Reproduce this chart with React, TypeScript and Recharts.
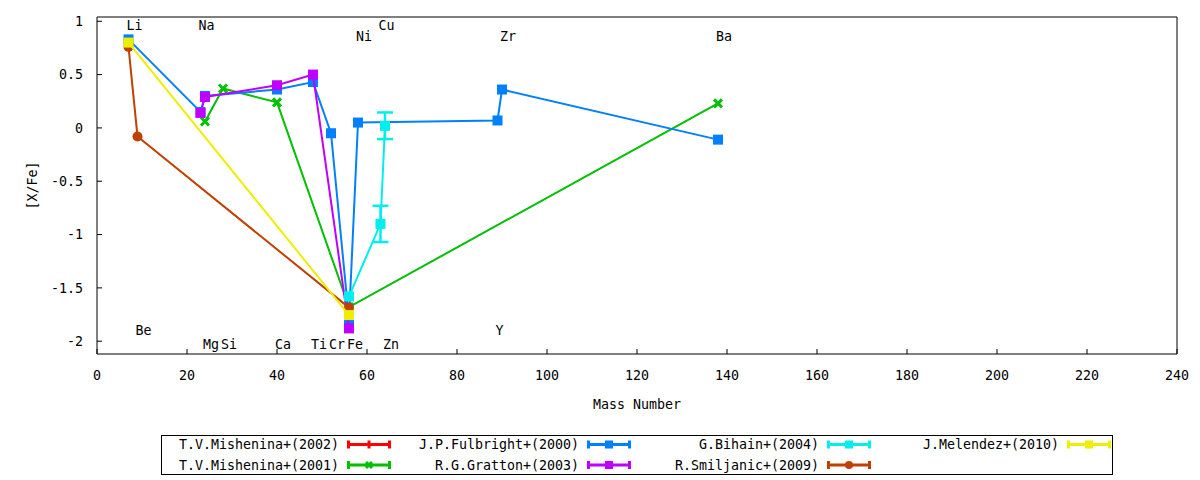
import { ComposedChart, Scatter, XAxis, YAxis, ErrorBar, Label } from "recharts";

const FONT = "'DejaVu Sans Mono', monospace";
const FS = 13.3;

// axes
const xTicks = [0, 20, 40, 60, 80, 100, 120, 140, 160, 180, 200, 220, 240];
const yTicks = [-2, -1.5, -1, -0.5, 0, 0.5, 1];
const xDomain = [0, 240];
const yDomain = [-2.12, 1.04];

// [X/Fe] by mass number, one list per paper
const mishenina2002: { x: number; y: number }[] = [];
const mishenina2001 = [
  { x: 24, y: 0.06 },
  { x: 28, y: 0.37 },
  { x: 40, y: 0.24 },
  { x: 56, y: -1.68 },
  { x: 138, y: 0.23 },
];
const fulbright2000 = [
  { x: 7, y: 0.83 },
  { x: 23, y: 0.15 },
  { x: 24, y: 0.3 },
  { x: 40, y: 0.36 },
  { x: 48, y: 0.43 },
  { x: 52, y: -0.05 },
  { x: 56, y: -1.8 },
  { x: 58, y: 0.05 },
  { x: 89, y: 0.07 },
  { x: 90, y: 0.36 },
  { x: 138, y: -0.11 },
];
const gratton2003 = [
  { x: 23, y: 0.14 },
  { x: 24, y: 0.29 },
  { x: 40, y: 0.4 },
  { x: 48, y: 0.5 },
  { x: 56, y: -1.88 },
];
const bihain2004 = [
  { x: 56, y: -1.58 },
  { x: 63, y: -0.9, err: 0.17 },
  { x: 64, y: 0.02, err: 0.125 },
];
const smiljanic2009 = [
  { x: 7, y: 0.76 },
  { x: 9, y: -0.08 },
  { x: 56, y: -1.685 },
];
const melendez2010 = [
  { x: 7, y: 0.8 },
  { x: 56, y: -1.755 },
];

// element names written in the plot
const elementLabels = [
  { name: "Li", x: 7, y: 0.96 },
  { name: "Na", x: 23, y: 0.96 },
  { name: "Cu", x: 63, y: 0.96 },
  { name: "Ni", x: 58, y: 0.855 },
  { name: "Zr", x: 90, y: 0.855 },
  { name: "Ba", x: 138, y: 0.855 },
  { name: "Be", x: 9, y: -1.9 },
  { name: "Y", x: 89, y: -1.9 },
  { name: "Mg", x: 24, y: -2.03 },
  { name: "Si", x: 28, y: -2.03 },
  { name: "Ca", x: 40, y: -2.03 },
  { name: "Ti", x: 48, y: -2.03 },
  { name: "Cr", x: 52, y: -2.03 },
  { name: "Fe", x: 56, y: -2.03 },
  { name: "Zn", x: 64, y: -2.03 },
];

type Kind = "plus" | "x" | "square" | "circle";

const series: { name: string; color: string; kind: Kind; data: { x: number; y: number; err?: number }[] }[] = [
  { name: "T.V.Mishenina+(2002)", color: "#ff0000", kind: "plus", data: mishenina2002 },
  { name: "T.V.Mishenina+(2001)", color: "#00c000", kind: "x", data: mishenina2001 },
  { name: "J.P.Fulbright+(2000)", color: "#0080ff", kind: "square", data: fulbright2000 },
  { name: "R.G.Gratton+(2003)", color: "#c000ff", kind: "square", data: gratton2003 },
  { name: "G.Bihain+(2004)", color: "#00eeee", kind: "square", data: bihain2004 },
  { name: "R.Smiljanic+(2009)", color: "#c04000", kind: "circle", data: smiljanic2009 },
  { name: "J.Melendez+(2010)", color: "#eeee00", kind: "square", data: melendez2010 },
];

function Marker({ kind, cx, cy, color, size = 10 }: { kind: Kind; cx: number; cy: number; color: string; size?: number }) {
  const h = size / 2;
  if (kind === "square") return <rect x={cx - h} y={cy - h} width={size} height={size} fill={color} />;
  if (kind === "circle") return <circle cx={cx} cy={cy} r={h} fill={color} />;
  if (kind === "x")
    return (
      <g stroke={color} strokeWidth={3}>
        <line x1={cx - h + 1} y1={cy - h + 1} x2={cx + h - 1} y2={cy + h - 1} />
        <line x1={cx - h + 1} y1={cy + h - 1} x2={cx + h - 1} y2={cy - h + 1} />
      </g>
    );
  return (
    <g stroke={color} strokeWidth={3}>
      <line x1={cx - h} y1={cy} x2={cx + h} y2={cy} />
      <line x1={cx} y1={cy - h} x2={cx} y2={cy + h} />
    </g>
  );
}

function LegendBox() {
  return (
    <svg width={1200} height={480} style={{ position: "absolute", left: 0, top: 0, pointerEvents: "none" }}>
      <rect x={161.5} y={435.5} width={951} height={39} fill="none" stroke="#000" strokeWidth={1} />
      {series.map((s, i) => {
        const col = Math.floor(i / 2);
        const row = i % 2;
        const cy = 444.5 + row * 20.5;
        const tx = 339 + col * 240;
        const x0 = 347 + col * 240;
        const x1 = 391 + col * 240;
        return (
          <g key={s.name}>
            <text x={tx} y={cy} textAnchor="end" dominantBaseline="central" fontFamily={FONT} fontSize={FS} fill="#000">
              {s.name}
            </text>
            <g stroke={s.color} strokeWidth={3}>
              <line x1={x0} y1={cy} x2={x1} y2={cy} />
              <line x1={x0 + 1.5} y1={cy - 4} x2={x0 + 1.5} y2={cy + 4} />
              <line x1={x1 - 1.5} y1={cy - 4} x2={x1 - 1.5} y2={cy + 4} />
            </g>
            {s.kind === "plus" ? (
              <line x1={(x0 + x1) / 2} y1={cy - 4} x2={(x0 + x1) / 2} y2={cy + 4} stroke={s.color} strokeWidth={3} />
            ) : (
              <Marker kind={s.kind} cx={(x0 + x1) / 2} cy={cy} color={s.color} size={8} />
            )}
          </g>
        );
      })}
    </svg>
  );
}

const tickStyle = { fontSize: FS, fill: "#000", fontFamily: FONT };

export default function App() {
  return (
    <div style={{ position: "absolute", left: 0, top: 0, width: 1200, height: 480, background: "#fff" }}>
      <ComposedChart width={1200} height={480} margin={{ top: 7, right: 13, bottom: 96, left: 37 }}>
        <XAxis
          type="number"
          dataKey="x"
          domain={xDomain}
          ticks={xTicks}
          allowDataOverflow
          height={30}
          tickSize={-5}
          tickMargin={22}
          tick={tickStyle}
          stroke="#000"
        >
          <Label value="Mass Number" position="bottom" offset={16} style={{ fontFamily: FONT, fontSize: FS, fill: "#000" }} />
        </XAxis>
        <XAxis
          xAxisId="top"
          orientation="top"
          type="number"
          domain={xDomain}
          ticks={xTicks}
          allowDataOverflow
          height={10}
          tickSize={-5}
          tick={false}
          stroke="#000"
        />
        <YAxis
          type="number"
          dataKey="y"
          domain={yDomain}
          ticks={yTicks}
          allowDataOverflow
          width={60}
          tickSize={-5}
          tickMargin={19}
          tick={tickStyle}
          stroke="#000"
        >
          <Label
            content={(props: any) => {
              const vb = props.viewBox || { x: 37, y: 17, height: 337 };
              const x = vb.x - 5;
              const y = vb.y + vb.height / 2;
              return (
                <text
                  x={x}
                  y={y}
                  transform={`rotate(-90, ${x}, ${y})`}
                  textAnchor="middle"
                  dominantBaseline="central"
                  fontFamily={FONT}
                  fontSize={FS}
                  fill="#000"
                >
                  [X/Fe]
                </text>
              );
            }}
          />
        </YAxis>
        <YAxis
          yAxisId="right"
          orientation="right"
          type="number"
          domain={yDomain}
          ticks={yTicks}
          allowDataOverflow
          width={10}
          tickSize={-5}
          tick={false}
          stroke="#000"
        />

        {series.map((s) => (
          <Scatter
            key={s.name}
            name={s.name}
            data={s.data}
            isAnimationActive={false}
            line={{ stroke: s.color, strokeWidth: 2 }}
            shape={(p: any) => <Marker kind={s.kind} cx={p.cx} cy={p.cy} color={s.color} />}
          >
            <ErrorBar dataKey="err" direction="y" width={8} stroke={s.color} strokeWidth={2.5} isAnimationActive={false} />
          </Scatter>
        ))}

        <Scatter
          data={elementLabels}
          isAnimationActive={false}
          shape={(p: any) => (
            <text
              x={p.cx - 2}
              y={p.cy}
              textAnchor="start"
              dominantBaseline="central"
              fontFamily={FONT}
              fontSize={FS}
              fill="#000"
            >
              {p.payload.name}
            </text>
          )}
        />
      </ComposedChart>
      <LegendBox />
    </div>
  );
}
